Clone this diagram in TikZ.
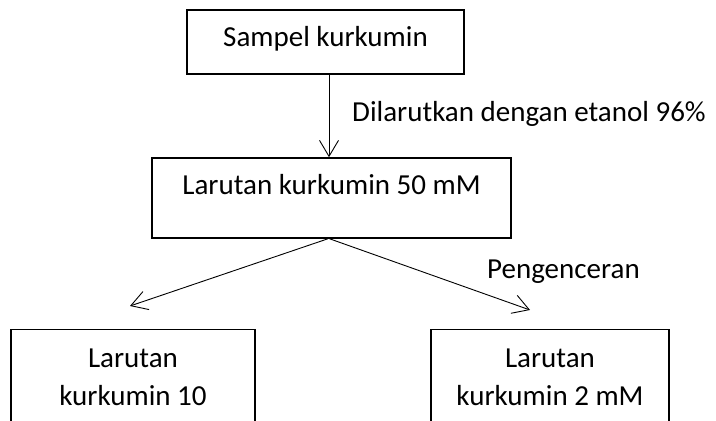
\documentclass[tikz,border=0pt]{standalone}
\usepackage{fontspec}
\setmainfont{Carlito}
\usetikzlibrary{arrows.meta, positioning}

\begin{document}
\begin{tikzpicture}[x=1pt,y=1pt,
	every node/.style={font=\fontsize{29}{38}\selectfont},
	box/.style={draw, line width=1.5pt, inner sep=0pt},
	lbl/.style={inner sep=0pt, anchor=base west},
	arr/.style={-{Straight Barb[length=16pt,width=19pt]}, line width=0.9pt}]

	\useasboundingbox (0,0) rectangle (716,421);
	\clip (0,0) rectangle (716,421);

	% boxes
	\node[box, minimum width=277pt, minimum height=64pt, text height=20pt, text depth=10pt] (sampel) at (325.5,379) {Sampel kurkumin};
	\node[box, minimum width=359pt, minimum height=80pt, text height=20pt, text depth=26pt] (larutan50) at (331.5,223) {Larutan kurkumin 50 mM};
	\node[box, anchor=north, minimum width=244pt, minimum height=96pt, align=center] (larutan10) at (133,92) {Larutan\\kurkumin 10};
	\node[box, anchor=north, minimum width=238pt, minimum height=96pt, align=center] (larutan2) at (550,92) {Larutan\\kurkumin 2 mM};

	\coordinate (tipL) at (130,115);
	\coordinate (tipR) at (530,111);

	% arrows
	\draw[arr] ([xshift=3.5pt]sampel.south) -- ([xshift=-2.5pt]larutan50.north);
	\draw[arr] ([xshift=-3.5pt]larutan50.south) -- (tipL);
	\draw[arr] ([xshift=-2pt]larutan50.south) -- (tipR);

	\node[lbl] (dilarut) at (352,299) {Dilarutkan dengan etanol 96\%};
	\node[lbl] (encer) at (487,142) {Pengenceran};

\end{tikzpicture}
\end{document}
